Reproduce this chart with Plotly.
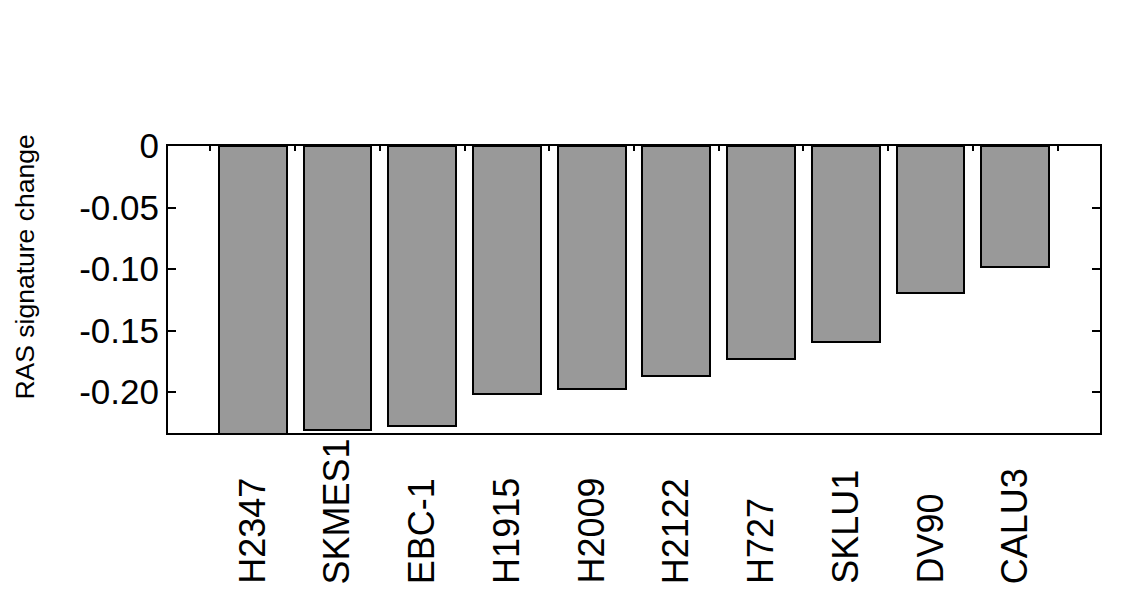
import plotly.graph_objects as go

categories = ["H2347", "SKMES1", "EBC-1", "H1915", "H2009", "H2122", "H727", "SKLU1", "DV90", "CALU3"]
values = [-0.240, -0.231, -0.228, -0.2016, -0.1976, -0.1867, -0.173, -0.159, -0.1193, -0.0986]
positions = list(range(1, len(categories) + 1))
ytick_vals = [0, -0.05, -0.10, -0.15, -0.20]
ytick_text = ["0", "-0.05", "-0.10", "-0.15", "-0.20"]
top_tick_vals = [p - 0.5 for p in positions] + [len(categories) + 0.5]

FONT = "Liberation Sans, Arial, sans-serif"

fig = go.Figure()
fig.add_trace(go.Bar(
    x=positions, y=values, width=0.8,
    marker=dict(color="#999999", line=dict(color="black", width=2)),
    showlegend=False, hoverinfo="skip",
))
fig.add_trace(go.Scatter(x=[], y=[], xaxis="x2", yaxis="y", showlegend=False))

annotations = []
for p, c in zip(positions, categories):
    annotations.append(dict(
        x=p, y=-0.533, xref="x", yref="paper", text=c, showarrow=False,
        textangle=-90, xanchor="center", yanchor="bottom",
        font=dict(family=FONT, size=36, color="black"),
    ))
annotations.append(dict(
    x=-0.153, y=0.578, xref="paper", yref="paper", text="RAS signature change",
    showarrow=False, textangle=-90, xanchor="center", yanchor="middle",
    font=dict(family=FONT, size=26.5, color="black"),
))

fig.update_layout(
    width=1127, height=589,
    margin=dict(l=168, r=27, t=146, b=156),
    paper_bgcolor="white", plot_bgcolor="white",
    bargap=0,
    xaxis=dict(range=[0, 11], showgrid=False, zeroline=False, showline=True,
               linecolor="black", linewidth=2, mirror=True, ticks="",
               showticklabels=False),
    xaxis2=dict(range=[0, 11], overlaying="x", side="top", anchor="y",
                showgrid=False, zeroline=False, showline=False,
                tickvals=top_tick_vals, ticks="inside", ticklen=5, tickwidth=1.5,
                tickcolor="black", showticklabels=False),
    yaxis=dict(range=[-0.2333, 0], showgrid=False, zeroline=False, showline=True,
               linecolor="black", linewidth=2, mirror="ticks",
               tickvals=ytick_vals, ticktext=ytick_text,
               ticks="inside", ticklen=8, tickwidth=2, tickcolor="black",
               tickfont=dict(family=FONT, size=35, color="black")),
    annotations=annotations,
)

fig.write_html("out.html", config={"displayModeBar": False},
               post_script="document.body.style.margin='0';")
